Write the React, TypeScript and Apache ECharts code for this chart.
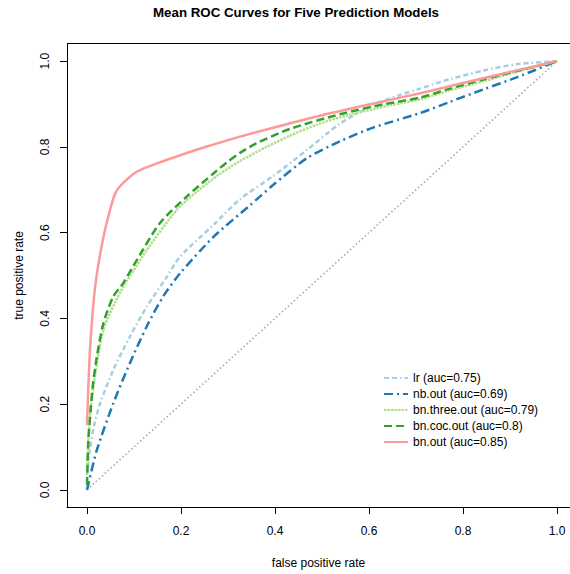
import React, { useEffect, useRef } from "react";
import * as echarts from "echarts";

const TITLE = "Mean ROC Curves for Five Prediction Models";
const X_LABEL = "false positive rate";
const Y_LABEL = "true positive rate";
const TICKS = [0, 0.2, 0.4, 0.6, 0.8, 1.0];

const SERIES_NAMES = [
  "lr (auc=0.75)",
  "nb.out (auc=0.69)",
  "bn.three.out (auc=0.79)",
  "bn.coc.out (auc=0.8)",
  "bn.out (auc=0.85)",
];

const lrX = [0, 0.006, 0.015, 0.028, 0.056, 0.091, 0.127, 0.17, 0.198, 0.269, 0.3255, 0.396, 0.467, 0.538, 0.609, 0.666, 0.709, 0.772, 0.843, 0.914, 1];
const lrY = [0.035, 0.093, 0.15, 0.202, 0.28, 0.357, 0.427, 0.497, 0.544, 0.618, 0.678, 0.732, 0.792, 0.854, 0.898, 0.921, 0.936, 0.958, 0.978, 0.993, 1];

const nbX = [0, 0.021, 0.056, 0.091, 0.127, 0.162, 0.198, 0.269, 0.347, 0.396, 0.467, 0.538, 0.609, 0.709, 0.772, 0.843, 0.914, 1];
const nbY = [0, 0.093, 0.202, 0.295, 0.381, 0.451, 0.505, 0.59, 0.664, 0.711, 0.773, 0.813, 0.845, 0.879, 0.905, 0.934, 0.962, 1];

const threeX = [0, 0.006, 0.017, 0.035, 0.07, 0.127, 0.191, 0.233, 0.28, 0.3255, 0.382, 0.432, 0.489, 0.538, 0.645, 0.709, 0.772, 0.843, 0.914, 1];
const threeY = [0.043, 0.171, 0.264, 0.373, 0.459, 0.559, 0.653, 0.695, 0.735, 0.767, 0.8, 0.826, 0.852, 0.869, 0.897, 0.911, 0.932, 0.953, 0.975, 1];

const cocX = [0, 0.003, 0.008, 0.013, 0.021, 0.035, 0.056, 0.077, 0.106, 0.155, 0.212, 0.269, 0.3, 0.3255, 0.36, 0.432, 0.538, 0.63, 0.709, 0.772, 0.843, 0.914, 1];
const cocY = [0.012, 0.117, 0.19, 0.249, 0.311, 0.389, 0.451, 0.482, 0.536, 0.622, 0.684, 0.738, 0.766, 0.786, 0.808, 0.842, 0.876, 0.899, 0.915, 0.936, 0.957, 0.977, 1];

const outX = [0, 0.005, 0.011, 0.018, 0.028, 0.038, 0.049, 0.058, 0.067, 0.084, 0.1, 0.113, 0.15, 0.2, 0.25, 0.3255, 0.4, 0.5, 0.6, 0.709, 0.8, 0.9, 1];
const outY = [0.151, 0.3, 0.4, 0.48, 0.55, 0.605, 0.653, 0.686, 0.704, 0.723, 0.738, 0.746, 0.762, 0.781, 0.799, 0.824, 0.846, 0.874, 0.899, 0.925, 0.949, 0.975, 1];

const diagX = [0, 1];
const diagY = [0, 1];

const COLORS = ["#a6cee3", "#1f78b4", "#b2df8a", "#33a02c", "#fb9a99"];
const DASHES: (number[] | "solid")[] = [
  [5, 3, 5, 3, 1.5, 3],
  [9, 4, 2, 4],
  [2.5, 1],
  [8, 4],
  "solid",
];

const pairs = (xs: number[], ys: number[]) => xs.map((x, i) => [x, ys[i]]);

const FONT = "Liberation Sans, Arial, Helvetica, sans-serif";

export default function App() {
  const ref = useRef<HTMLDivElement>(null);
  useEffect(() => {
    document.body.style.margin = "0";
    if (!ref.current) return;
    const chart = echarts.init(ref.current, null, { renderer: "svg" });
    const data = [
      pairs(lrX, lrY),
      pairs(nbX, nbY),
      pairs(threeX, threeY),
      pairs(cocX, cocY),
      pairs(outX, outY),
    ];
    const series: any[] = [
      {
        type: "line",
        name: "diag",
        data: pairs(diagX, diagY),
        symbol: "none",
        silent: true,
        lineStyle: { color: "#a8a8a8", width: 1.6, type: [1.5, 2.5] },
      },
    ];
    SERIES_NAMES.forEach((name, i) => {
      series.push({
        type: "line",
        name,
        data: data[i],
        symbol: "none",
        smooth: 0.25,
        itemStyle: { color: COLORS[i] },
        lineStyle: { color: COLORS[i], width: 2.5, type: DASHES[i] },
      });
    });
    chart.setOption({
      animation: false,
      backgroundColor: "#ffffff",
      textStyle: { fontFamily: FONT },
      title: {
        text: TITLE,
        left: 291,
        top: 1,
        textAlign: "center",
        textStyle: { fontSize: 13.3, fontWeight: "bold", color: "#000", fontFamily: FONT },
      },
      grid: {
        left: 67,
        top: 44,
        width: 503,
        height: 463,
        show: false,
      },
      graphic: [
        {
          type: "line",
          shape: { x1: 67, y1: 43.5, x2: 570, y2: 43.5 },
          style: { stroke: "#000", lineWidth: 1 },
          silent: true,
        },
      ],
      legend: {
        data: SERIES_NAMES,
        orient: "vertical",
        left: 383,
        top: 372,
        padding: 0,
        itemWidth: 24,
        itemHeight: 12,
        itemGap: 4,
        itemStyle: { opacity: 0 },
        textStyle: { fontSize: 12, color: "#000", fontFamily: FONT, lineHeight: 12 },
        selectedMode: false,
      },
      xAxis: {
        type: "value",
        min: -0.04255,
        max: 1.02766,
        name: X_LABEL,
        nameLocation: "middle",
        nameGap: 50,
        nameTextStyle: { fontSize: 12, color: "#000", fontFamily: FONT },
        axisLine: { show: true, onZero: false, lineStyle: { color: "#000", width: 1 } },
        splitLine: { show: false },
        axisTick: { show: true, length: 7, customValues: TICKS, lineStyle: { color: "#000" } },
        axisLabel: {
          customValues: TICKS,
          margin: 18,
          fontSize: 12,
          color: "#000",
          fontFamily: FONT,
          formatter: (v: number) => v.toFixed(1),
        },
      },
      yAxis: {
        type: "value",
        min: -0.04,
        max: 1.04,
        name: Y_LABEL,
        nameLocation: "middle",
        nameGap: 42,
        nameTextStyle: { fontSize: 12, color: "#000", fontFamily: FONT },
        axisLine: { show: true, onZero: false, lineStyle: { color: "#000", width: 1 } },
        splitLine: { show: false },
        axisTick: { show: true, length: 7, customValues: TICKS, lineStyle: { color: "#000" } },
        axisLabel: {
          customValues: TICKS,
          rotate: 90,
          margin: 16,
          fontSize: 12,
          color: "#000",
          fontFamily: FONT,
          formatter: (v: number) => v.toFixed(1),
        },
      },
      series,
    });
    return () => chart.dispose();
  }, []);
  return <div ref={ref} style={{ width: 570, height: 574 }} />;
}
